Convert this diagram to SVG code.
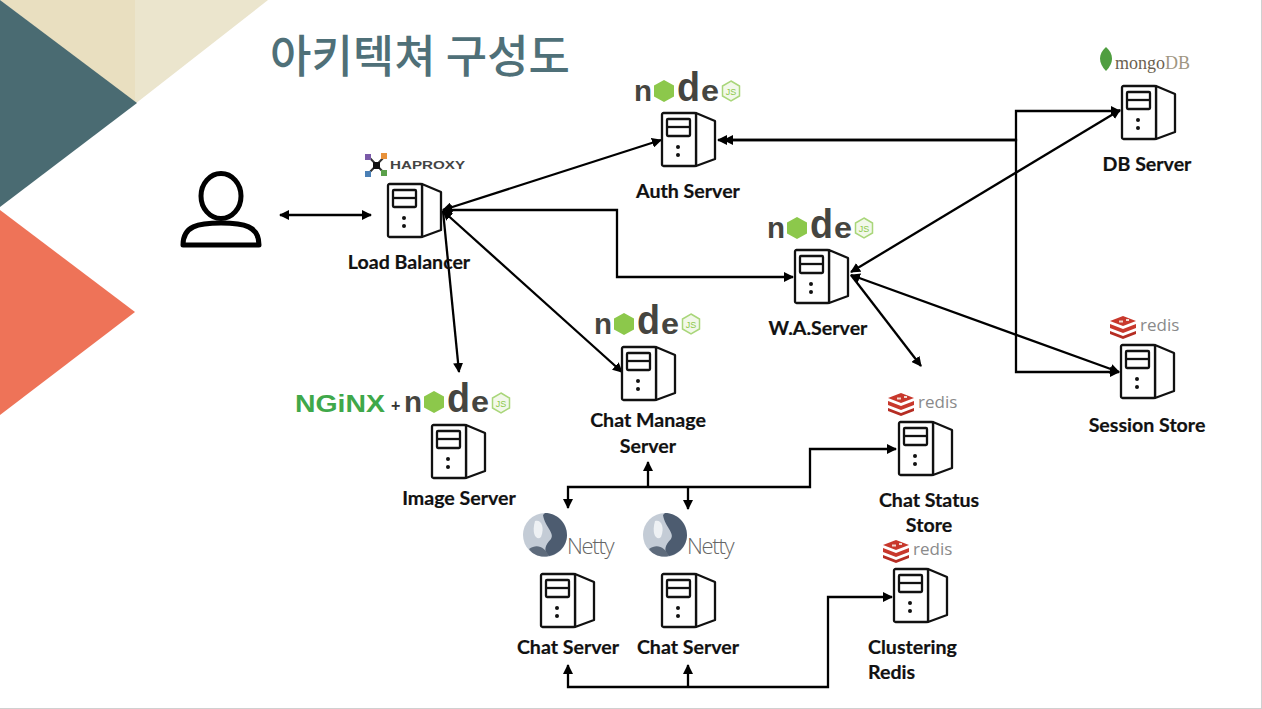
<svg xmlns="http://www.w3.org/2000/svg" width="1262" height="709" viewBox="0 0 1262 709">
<style>
.lb{font-family:Lato,"Liberation Sans",sans-serif;font-weight:700;font-size:19.600px;fill:#111;text-anchor:middle;stroke:#111;stroke-width:.2px}
.st{fill:#fff;stroke:#111;stroke-width:2.300;stroke-linejoin:round}
.c{fill:none;stroke:#000;stroke-width:2.300}
.nd{font-family:"Liberation Sans",sans-serif;font-weight:700;fill:#454540}
.js{font-family:"Liberation Sans",sans-serif;font-size:9px;fill:#8cc84b;text-anchor:middle}
.rd{font-family:"Open Sans",sans-serif;font-size:17px;fill:#8a8a8a}
.ny{font-family:"Open Sans",sans-serif;font-size:22px;font-weight:300;fill:#666;letter-spacing:-1.300px}
</style>
<defs>
<marker id="a" viewBox="0 0 10 10" refX="9" refY="5" markerWidth="10" markerHeight="10" markerUnits="userSpaceOnUse" orient="auto-start-reverse"><path d="M0 0L10 5L0 10z" fill="#000"/></marker>
<symbol id="srv" overflow="visible" width="56" height="56" viewBox="0 0 56 56">
<path class="st" d="M35 1L54 9V47L35 54z"/>
<rect class="st" x="1" y="1" width="34" height="53" rx="1.5"/>
<rect class="st" x="6" y="7" width="23" height="17" rx="1"/>
<path class="st" d="M6 15H29"/>
<circle cx="17" cy="35" r="2" fill="#111"/><circle cx="17" cy="43" r="2" fill="#111"/>
</symbol>
<g id="hexo"><path d="M10 0L20 5.500V16.500L10 22L0 16.500V5.500z" fill="#8cc84b"/></g>
<g id="hexj"><path d="M9 0L17.500 5V15L9 20L0.500 15V5z" fill="#f2f8ea" stroke="#a9d67a" stroke-width="1.500"/></g>
<g id="redisicon"><path d="M0 6L13 1L26 6L13 11z" fill="#c8382c"/><path d="M0 9L13 14L26 9V13L13 18L0 13z" fill="#c8382c"/><path d="M0 16L13 21L26 16V19L13 24L0 19z" fill="#b52d23"/><path d="M9 5.500h4v2h-4zM16 4h3v2h-3z" fill="#f0d8d0"/></g>
<g id="nettyball"><circle cx="22" cy="22" r="22" fill="#c4ccd6"/><path d="M22 0C34 0 44 10 44 22C44 34 34 42 26 43C20 38 22 32 28 26C32 20 22 14 20 2z" fill="#4d5c70"/><path d="M6 36C14 30 22 34 26 43C18 45 10 42 6 36z" fill="#5e6b7c"/><path d="M12 8C18 6 22 14 18 24C14 28 8 22 12 8z" fill="#eef1f4"/></g>
</defs>
<rect width="1262" height="709" fill="#fff"/>
<path d="M0 0H135V104z" fill="#e9dfc0"/>
<path d="M135 0H268L135 104z" fill="#ebe5cd"/>
<path d="M0 0L137 103L0 207z" fill="#4a6b72"/>
<path d="M0 210L135 312L0 415z" fill="#ee7358"/>
<path d="M0 708.500H1262M1261.500 0V709" stroke="#d0d0d0" fill="none"/>
<text x="270" y="73" font-family="'Noto Sans CJK KR',sans-serif" font-size="45" font-weight="500" fill="#4f7078">아키텍쳐 구성도</text>

<g id="connectors">
<path class="c" d="M280 215H371" marker-start="url(#a)" marker-end="url(#a)"/>
<path class="c" d="M443 210L661 140" marker-start="url(#a)" marker-end="url(#a)"/>
<path class="c" d="M443 210H617V277H793" marker-start="url(#a)" marker-end="url(#a)"/>
<path class="c" d="M443 211L622 372" marker-start="url(#a)" marker-end="url(#a)"/>
<path class="c" d="M443 211L459 372" marker-end="url(#a)"/>
<path class="c" d="M718 140H1016V111H1120" marker-start="url(#a)" marker-end="url(#a)"/>
<path class="c" d="M724 140H1016V372H1119" marker-start="url(#a)" marker-end="url(#a)"/>
<path class="c" d="M851 272L1120 110" marker-start="url(#a)" marker-end="url(#a)"/>
<path class="c" d="M851 275L1119 372" marker-start="url(#a)" marker-end="url(#a)"/>
<path class="c" d="M851 275L921 366" marker-end="url(#a)"/>
<path class="c" d="M648 487V462" marker-end="url(#a)"/>
<path class="c" d="M568 508V487H810V449H896" marker-start="url(#a)" marker-end="url(#a)"/>
<path class="c" d="M688 487V509" marker-end="url(#a)"/>
<path class="c" d="M568 665V687H828V597H892" marker-start="url(#a)" marker-end="url(#a)"/>
<path class="c" d="M688 687V665" marker-end="url(#a)"/>
</g>

<g id="user"><ellipse cx="221" cy="196" rx="20" ry="22.500" fill="none" stroke="#000" stroke-width="5"/><path d="M183 245C183 226 198 223 221 223C244 223 259 226 259 245z" fill="none" stroke="#000" stroke-width="5" stroke-linejoin="round"/></g>

<g id="load-balancer"><use href="#srv" x="387" y="183"/><text class="lb" x="409" y="269">Load Balancer</text>
<path d="M368 156L385 174M385 156L368 174" stroke="#333" stroke-width="2"/><rect x="365" y="154" width="6" height="6" fill="#7a5aa8"/><rect x="381" y="153" width="6" height="6" fill="#e8913a"/><rect x="365" y="171" width="6" height="6" fill="#4a7fb5"/><rect x="381" y="170" width="6" height="6" fill="#5aa04a"/><rect x="373" y="162" width="7" height="7" fill="#111"/>
<text x="390" y="169" font-family="'Liberation Sans',sans-serif" font-weight="700" font-size="11" fill="#444" textLength="75" lengthAdjust="spacingAndGlyphs">HAPROXY</text></g>

<g id="auth-server"><use href="#srv" x="661" y="112"/><text class="lb" x="688" y="198">Auth Server</text>
<text class="nd" font-size="30" x="634" y="101" textLength="18" lengthAdjust="spacingAndGlyphs">n</text><use href="#hexo" x="654" y="80"/><text class="nd" font-size="40" x="677" y="101" textLength="23" lengthAdjust="spacingAndGlyphs">d</text><text class="nd" font-size="30" x="701" y="101" textLength="18" lengthAdjust="spacingAndGlyphs">e</text><use href="#hexj" x="722" y="81"/><text class="js" x="731" y="95">JS</text></g>

<g id="wa-server"><use href="#srv" x="794" y="249"/><text class="lb" x="818" y="335">W.A.Server</text>
<text class="nd" font-size="30" x="767" y="238" textLength="18" lengthAdjust="spacingAndGlyphs">n</text><use href="#hexo" x="787" y="217"/><text class="nd" font-size="40" x="810" y="238" textLength="23" lengthAdjust="spacingAndGlyphs">d</text><text class="nd" font-size="30" x="834" y="238" textLength="18" lengthAdjust="spacingAndGlyphs">e</text><use href="#hexj" x="855" y="218"/><text class="js" x="864" y="232">JS</text></g>

<g id="chat-manage-server"><use href="#srv" x="621" y="346"/><text class="lb" x="648" y="427">Chat Manage</text><text class="lb" x="648" y="453">Server</text>
<text class="nd" font-size="30" x="594" y="334" textLength="18" lengthAdjust="spacingAndGlyphs">n</text><use href="#hexo" x="614" y="313"/><text class="nd" font-size="40" x="637" y="334" textLength="23" lengthAdjust="spacingAndGlyphs">d</text><text class="nd" font-size="30" x="661" y="334" textLength="18" lengthAdjust="spacingAndGlyphs">e</text><use href="#hexj" x="682" y="314"/><text class="js" x="691" y="328">JS</text></g>

<g id="image-server"><use href="#srv" x="431" y="424"/><text class="lb" x="459" y="505">Image Server</text>
<text x="295" y="412" font-family="'Liberation Sans',sans-serif" font-weight="700" font-size="24" fill="#3fa84a" textLength="90" lengthAdjust="spacingAndGlyphs">NGiNX</text><text x="391" y="411" font-family="'Liberation Sans',sans-serif" font-weight="700" font-size="16" fill="#333">+</text>
<text class="nd" font-size="30" x="404" y="412" textLength="18" lengthAdjust="spacingAndGlyphs">n</text><use href="#hexo" x="424" y="391"/><text class="nd" font-size="40" x="447" y="412" textLength="23" lengthAdjust="spacingAndGlyphs">d</text><text class="nd" font-size="30" x="471" y="412" textLength="18" lengthAdjust="spacingAndGlyphs">e</text><use href="#hexj" x="492" y="393"/><text class="js" x="501" y="407">JS</text></g>

<g id="db-server"><use href="#srv" x="1121" y="85"/><text class="lb" x="1147" y="171">DB Server</text>
<path d="M1106 47C1114 54 1114 63 1106 71C1098 63 1098 54 1106 47z" fill="#4f9e40"/><text x="1115" y="69" font-family="'Liberation Serif',serif" font-size="18" fill="#6b5f50">mongo<tspan fill="#a09682">DB</tspan></text></g>

<g id="session-store"><use href="#srv" x="1120" y="344"/><text class="lb" x="1147" y="432">Session Store</text>
<use href="#redisicon" x="1110" y="315"/><text class="rd" x="1140" y="331">redis</text></g>

<g id="chat-status-store"><use href="#srv" x="898" y="421"/><text class="lb" x="929" y="507">Chat Status</text><text class="lb" x="929" y="532">Store</text>
<use href="#redisicon" x="888" y="392"/><text class="rd" x="918" y="408">redis</text></g>

<g id="clustering-redis"><use href="#srv" x="893" y="568"/><text class="lb" x="868" y="654" style="text-anchor:start">Clustering</text><text class="lb" x="868" y="679" style="text-anchor:start">Redis</text>
<use href="#redisicon" x="883" y="539"/><text class="rd" x="913" y="555">redis</text></g>

<g id="chat-server-1"><use href="#srv" x="540" y="573"/><text class="lb" x="568" y="654">Chat Server</text>
<use href="#nettyball" x="523" y="513"/><text class="ny" x="567" y="554">Netty</text></g>

<g id="chat-server-2"><use href="#srv" x="661" y="573"/><text class="lb" x="688" y="654">Chat Server</text>
<use href="#nettyball" x="643" y="513"/><text class="ny" x="687" y="554">Netty</text></g>
</svg>
